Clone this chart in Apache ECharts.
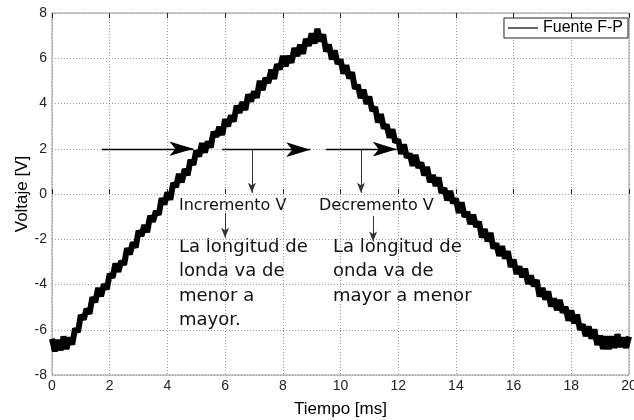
<!DOCTYPE html>
<html>
<head>
<meta charset="utf-8">
<script src="https://cdn.jsdelivr.net/npm/echarts@6/dist/echarts.min.js"></script>
<style>
  html, body { margin: 0; padding: 0; background: #fff; }
  #chart { width: 634px; height: 420px; }
</style>
</head>
<body>
<div id="chart"></div>
<script>
// Sample times of the oscilloscope capture (ms)
var tiempoMs = [
  0.0,0.1,0.2,0.3,0.4,0.5,0.6,0.7,0.8,0.9,
  1.0,1.1,1.2,1.3,1.4,1.5,1.6,1.7,1.8,1.9,
  2.0,2.1,2.2,2.3,2.4,2.5,2.6,2.7,2.8,2.9,
  3.0,3.1,3.2,3.3,3.4,3.5,3.6,3.7,3.8,3.9,
  4.0,4.1,4.2,4.3,4.4,4.5,4.6,4.7,4.8,4.9,
  5.0,5.1,5.2,5.3,5.4,5.5,5.6,5.7,5.8,5.9,
  6.0,6.1,6.2,6.3,6.4,6.5,6.6,6.7,6.8,6.9,
  7.0,7.1,7.2,7.3,7.4,7.5,7.6,7.7,7.8,7.9,
  8.0,8.1,8.2,8.3,8.4,8.5,8.6,8.7,8.8,8.9,
  9.0,9.1,9.2,9.3,9.4,9.5,9.6,9.7,9.8,9.9,
  10.0,10.1,10.2,10.3,10.4,10.5,10.6,10.7,10.8,10.9,
  11.0,11.1,11.2,11.3,11.4,11.5,11.6,11.7,11.8,11.9,
  12.0,12.1,12.2,12.3,12.4,12.5,12.6,12.7,12.8,12.9,
  13.0,13.1,13.2,13.3,13.4,13.5,13.6,13.7,13.8,13.9,
  14.0,14.1,14.2,14.3,14.4,14.5,14.6,14.7,14.8,14.9,
  15.0,15.1,15.2,15.3,15.4,15.5,15.6,15.7,15.8,15.9,
  16.0,16.1,16.2,16.3,16.4,16.5,16.6,16.7,16.8,16.9,
  17.0,17.1,17.2,17.3,17.4,17.5,17.6,17.7,17.8,17.9,
  18.0,18.1,18.2,18.3,18.4,18.5,18.6,18.7,18.8,18.9,
  19.0,19.1,19.2,19.3,19.4,19.5,19.6,19.7,19.8,19.9,
  20.0
];

// Measured voltage of the F-P source (V)
var voltajeV = [
  -6.4,-6.95,-6.45,-6.9,-6.3,-6.85,-6.35,-6.65,-5.95,-6.1,
  -5.35,-5.55,-5.07,-5.29,-4.56,-4.78,-4.15,-4.52,-3.99,-4.21,
  -3.53,-3.7,-3.07,-3.44,-2.96,-3.13,-2.4,-2.67,-2.14,-2.36,
  -1.63,-1.85,-1.37,-1.69,-0.96,-1.23,-0.75,-0.92,-0.19,-0.46,
  0.07,-0.25,0.48,0.31,0.89,0.52,1.1,0.83,1.51,1.29,
  1.92,1.66,2.25,1.83,2.32,2.06,2.75,2.53,2.97,2.61,
  3.3,2.99,3.47,3.21,3.9,3.59,4.07,3.71,4.4,4.09,
  4.53,4.26,5.0,4.59,5.13,4.91,5.5,5.09,5.73,5.51,
  6.1,5.65,6.1,5.8,6.45,6.1,6.6,6.2,6.85,6.55,
  7.1,6.65,7.3,6.75,7.05,6.3,6.6,5.95,6.35,5.75,
  5.95,5.32,5.69,5.11,5.38,4.65,4.82,4.24,4.61,3.98,
  4.3,3.67,3.84,3.16,3.53,2.9,3.07,2.49,2.86,2.28,
  2.4,1.77,2.19,1.61,1.78,1.25,1.73,1.16,1.39,0.82,
  1.2,0.52,0.84,0.36,0.73,0.05,0.26,-0.28,0.13,-0.41,
  -0.2,-0.84,-0.37,-1.01,-0.79,-1.33,-0.91,-1.45,-1.23,-1.92,
  -1.55,-2.09,-1.72,-2.41,-2.19,-2.73,-2.31,-2.85,-2.53,-3.22,
  -2.9,-3.53,-3.2,-3.68,-3.3,-3.98,-3.6,-4.08,-3.8,-4.53,
  -4.15,-4.66,-4.31,-4.97,-4.62,-5.13,-4.68,-5.24,-4.99,-5.6,
  -5.15,-5.72,-5.33,-6.0,-5.77,-6.28,-5.85,-6.39,-5.98,-6.67,
  -6.26,-6.85,-6.3,-6.85,-6.3,-6.8,-6.2,-6.75,-6.35,-6.8,
  -6.3
];

// Axis ticks
var ticksX = [0, 2, 4, 6, 8, 10, 12, 14, 16, 18, 20];
var ticksY = [-8, -6, -4, -2, 0, 2, 4, 6, 8];

// Horizontal arrows at the 2 V level: [x start, x end, y]
var flechasH = [
  [1.73, 4.9, 2.0],
  [5.9, 8.95, 1.96],
  [9.5, 11.95, 1.98]
];
// Thin vertical arrows: [x, y start, y end]
var flechasV = [
  [6.93, 1.96, 0.05],
  [10.71, 1.98, 0.05],
  [6.0, -0.84, -1.93],
  [11.13, -0.97, -2.1]
];

var seriePuntos = tiempoMs.map(function (t, i) { return [t, voltajeV[i]]; });

var lineasMarca = [];
flechasH.forEach(function (f) {
  lineasMarca.push([
    { coord: [f[0], f[2]], symbol: 'none', lineStyle: { color: '#000', width: 1.3, type: 'solid' } },
    { coord: [f[1], f[2]], symbol: 'arrow', symbolSize: [11, 24] }
  ]);
});
flechasV.forEach(function (f) {
  lineasMarca.push([
    { coord: [f[0], f[1]], symbol: 'none', lineStyle: { color: '#333', width: 1, type: 'solid' } },
    { coord: [f[0], f[2]], symbol: 'arrow', symbolSize: [6, 10] }
  ]);
});

var fuenteEje = 'Liberation Sans, Arial, sans-serif';
var fuenteNota = 'DejaVu Sans, sans-serif';

var chart = echarts.init(document.getElementById('chart'), null, { renderer: 'canvas' });
chart.setOption({
  animation: false,
  backgroundColor: '#fff',
  grid: {
    left: 52, right: 5, top: 13, bottom: 45,
    containLabel: false, outerBoundsMode: 'none',
    show: true, borderColor: '#999', borderWidth: 1, backgroundColor: '#fff'
  },
  legend: {
    right: 6, top: 18,
    data: [{ name: 'Fuente F-P', icon: 'rect' }],
    itemWidth: 30, itemHeight: 1.2, itemGap: 4,
    padding: [2, 5, 2, 4],
    borderColor: '#222', borderWidth: 1, borderRadius: 0,
    backgroundColor: '#fff',
    textStyle: { fontFamily: fuenteEje, fontSize: 16, color: '#000' }
  },
  xAxis: [{
    type: 'value', min: ticksX[0], max: ticksX[ticksX.length - 1], interval: 2,
    name: 'Tiempo [ms]', nameLocation: 'middle', nameGap: 26,
    nameTextStyle: { fontFamily: fuenteEje, fontSize: 17, color: '#000' },
    axisLine: { show: false },
    axisTick: { show: true, inside: true, length: 5, lineStyle: { color: '#222' } },
    axisLabel: { fontFamily: fuenteEje, fontSize: 14, color: '#222', margin: 4 },
    splitLine: { show: true, lineStyle: { color: '#999', type: [1, 2], width: 1 } }
  }, {
    type: 'value', position: 'top', min: ticksX[0], max: ticksX[ticksX.length - 1], interval: 2,
    axisLine: { show: false },
    axisTick: { show: true, inside: true, length: 5, lineStyle: { color: '#222' } },
    axisLabel: { show: false },
    splitLine: { show: false }
  }],
  yAxis: {
    type: 'value', min: ticksY[0], max: ticksY[ticksY.length - 1], interval: 2,
    name: 'Voltaje [V]', nameLocation: 'middle', nameGap: 21, nameMoveOverlap: false,
    nameTextStyle: { fontFamily: fuenteEje, fontSize: 17, color: '#000' },
    axisLine: { show: false },
    axisTick: { show: false },
    axisLabel: { fontFamily: fuenteEje, fontSize: 14, color: '#222', margin: 5 },
    splitLine: { show: true, lineStyle: { color: '#999', type: [1, 2], width: 1 } }
  },
  series: [{
    name: 'Fuente F-P',
    type: 'line',
    data: seriePuntos,
    showSymbol: false,
    symbol: 'none',
    lineStyle: { color: '#000', width: 6, join: 'bevel' },
    itemStyle: { color: '#000' },
    markLine: {
      silent: true,
      animation: false,
      label: { show: false },
      emphasis: { disabled: true },
      data: lineasMarca
    }
  }],
  graphic: [
    { type: 'text', left: 179, top: 198, style: { text: 'Incremento V', font: '16px ' + fuenteNota, fill: '#111' } },
    { type: 'text', left: 319, top: 198, style: { text: 'Decremento V', font: '16px ' + fuenteNota, fill: '#111' } },
    { type: 'text', left: 179, top: 235, style: { text: 'La longitud de\nlonda va de\nmenor a\nmayor.', font: '18px ' + fuenteNota, lineHeight: 24.5, fill: '#111' } },
    { type: 'text', left: 333, top: 235, style: { text: 'La longitud de\nonda va de\nmayor a menor', font: '18px ' + fuenteNota, lineHeight: 24.5, fill: '#111' } }
  ]
});
</script>
</body>
</html>
